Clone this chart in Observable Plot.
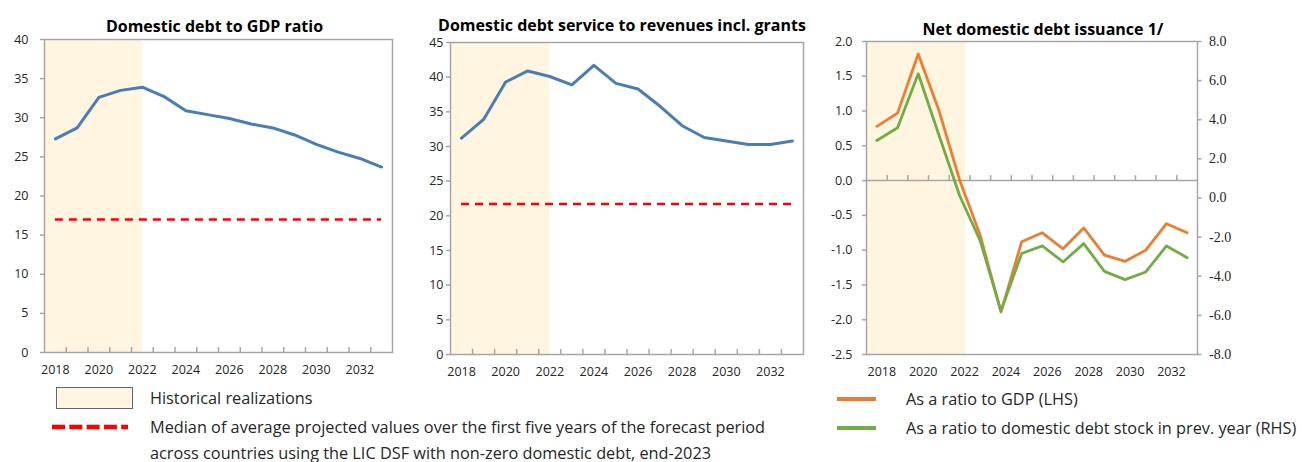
<!DOCTYPE html>
<html><head><meta charset="utf-8">
<script src="https://cdn.jsdelivr.net/npm/d3@7"></script>
<script src="https://cdn.jsdelivr.net/npm/@observablehq/plot@0.6"></script>
<style>
body{margin:0;background:#fff;width:1302px;height:462px;position:relative;overflow:hidden;font-family:"Open Sans",sans-serif;}
.panel{position:absolute;top:0;}
.leg{position:absolute;font-size:16.3px;color:#262626;white-space:nowrap;line-height:18px;}
.sw{position:absolute;}
</style></head><body>
<div id="p1" class="panel" style="left:0px"></div>
<div id="p2" class="panel" style="left:400px"></div>
<div id="p3" class="panel" style="left:820px"></div>

<div class="sw" style="left:56px;top:387px;width:75px;height:20px;background:#fff5e0;border:1.5px solid #56687a;"></div>
<svg class="sw" style="left:48px;top:420px" width="84" height="14"><line x1="4" x2="80" y1="7" y2="7" stroke="#ff0000" stroke-width="4.5" stroke-dasharray="13,4.3"/></svg>
<div class="leg" style="left:150px;top:389px">Historical realizations</div>
<div class="leg" style="left:150px;top:418px">Median of average projected values over the first five years of the forecast period</div>
<div class="leg" style="left:150px;top:444px">across countries using the LIC DSF with non-zero domestic debt, end-2023</div>

<svg class="sw" style="left:836px;top:392px" width="42" height="14"><line x1="1" x2="40" y1="7" y2="7" stroke="#ed7d31" stroke-width="4"/></svg>
<svg class="sw" style="left:836px;top:421px" width="42" height="14"><line x1="1" x2="40" y1="7" y2="7" stroke="#70ad47" stroke-width="4"/></svg>
<div class="leg" style="left:906px;top:390px">As a ratio to GDP (LHS)</div>
<div class="leg" style="left:906px;top:419px">As a ratio to domestic debt stock in prev. year (RHS)</div>

<script>
// ---- data ----
const years = [2018, 2019, 2020, 2021, 2022, 2023, 2024, 2025, 2026, 2027, 2028, 2029, 2030, 2031, 2032, 2033];
const yearTickLabels = [2018, 2020, 2022, 2024, 2026, 2028, 2030, 2032];
const debtToGDP = [27.3, 28.7, 32.6, 33.5, 33.9, 32.7, 30.9, 30.4, 29.9, 29.2, 28.7, 27.8, 26.6, 25.6, 24.8, 23.7];
const debtServiceToRevenue = [31.2, 33.9, 39.3, 40.9, 40.1, 38.9, 41.7, 39.1, 38.3, 35.8, 33.0, 31.3, 30.8, 30.3, 30.3, 30.8];
const issuanceToGDP = [0.78, 0.97, 1.82, 1.01, 0.01, -0.79, -1.89, -0.88, -0.75, -0.98, -0.68, -1.07, -1.16, -1.00, -0.62, -0.75];
const issuanceToStock = [2.94, 3.59, 6.35, 3.22, 0.13, -2.2, -5.77, -2.84, -2.45, -3.27, -2.33, -3.75, -4.17, -3.78, -2.45, -3.05];
const medianDebtToGDP = 17.0;
const medianDebtService = 21.7;
const historicalEnd = [2022, 2022, 2022.3];
const titles = ["Domestic debt to GDP ratio", "Domestic debt service to revenues incl. grants", "Net domestic debt issuance 1/"];
const yTicks1 = [0, 5, 10, 15, 20, 25, 30, 35, 40];
const yTicks2 = [0, 5, 10, 15, 20, 25, 30, 35, 40, 45];
const yTicks3 = [-2.5, -2.0, -1.5, -1.0, -0.5, 0.0, 0.5, 1.0, 1.5, 2.0];
const yTicks3Right = [-8, -6, -4, -2, 0, 2, 4, 6, 8];

// ---- styles ----
const GRAY = "#a6a6a6";
const SHADE = "#fff5e0";
const BLUE = "#4a7db5";
const ORANGE = "#ed7d31";
const GREEN = "#70ad47";
const RED = "#ff0000";

const xDomain = [years[0] - 0.5, years[years.length - 1] + 0.5];
const boundaries = years.slice(0, -1).map(y => y + 0.5);
const rows = years.map((y, i) => ({year: y, gdp: debtToGDP[i], svc: debtServiceToRevenue[i], iG: issuanceToGDP[i], iS: issuanceToStock[i]}));
const shade = (end) => Plot.rect([{a: xDomain[0], b: end}], {x1: "a", x2: "b", fill: SHADE});
const innerTicks = () => Plot.ruleX(boundaries, {x: d => d, y1: 0, y2: 0, insetTop: -5, stroke: GRAY, strokeWidth: 1.5});
const style = {fontFamily: "'Open Sans', sans-serif", fontSize: "12.5px", color: "#262626", background: "white"};

function basePlot(o) {
  return Plot.plot({
    width: o.width, height: 390,
    marginLeft: o.ml, marginRight: o.mr, marginTop: o.mt, marginBottom: o.mb,
    style,
    x: {domain: xDomain, axis: null, label: null},
    y: {domain: o.yDomain, axis: null, label: null},
    marks: [
      shade(o.shadeEnd),
      ...o.marks,
      Plot.frame({stroke: GRAY, strokeWidth: 1.5}),
      Plot.axisY(o.yTicks, {anchor: "left", label: null, tickSize: 4, tickPadding: o.ltp, stroke: GRAY, strokeWidth: 1.5, tickFormat: o.yFmt || (d => String(d)), fill: "#262626"}),
      Plot.axisX(yearTickLabels, {anchor: "bottom", label: null, tickSize: 0, tickPadding: 13, tickFormat: d => String(d), dx: o.xdx || 0, fill: "#262626"}),
      innerTicks(),
      Plot.text([o.title], {frameAnchor: "top", dy: o.tdy, dx: o.tdx, fontWeight: "bold", fontSize: 16, fill: "#000"}),
      ...(o.extra || [])
    ]
  });
}

// Panel 1
document.getElementById("p1").append(basePlot({
  width: 400, ml: 44, mr: 8, mt: 39, mb: 38, yDomain: [0, 40], yTicks: yTicks1, ltp: 12,
  shadeEnd: historicalEnd[0], title: titles[0], tdy: -18.5, tdx: -4,
  marks: [
    Plot.ruleY([medianDebtToGDP], {x1: years[0], x2: years[years.length - 1], stroke: RED, strokeWidth: 2.6, strokeDasharray: "8,6"}),
    Plot.line(rows, {x: "year", y: "gdp", stroke: BLUE, strokeWidth: 3})
  ]
}));

// Panel 2
document.getElementById("p2").append(basePlot({
  width: 410, ml: 50, mr: 7, mt: 42, mb: 36, yDomain: [0, 45], yTicks: yTicks2, ltp: 3,
  shadeEnd: historicalEnd[1], title: titles[1], tdy: -22.5, tdx: -5,
  marks: [
    Plot.ruleY([medianDebtService], {x1: years[0], x2: years[years.length - 1], stroke: RED, strokeWidth: 2.6, strokeDasharray: "8,6"}),
    Plot.line(rows, {x: "year", y: "svc", stroke: BLUE, strokeWidth: 3})
  ]
}));

// Panel 3 (dual axis: right axis values mapped onto the left scale)
const lhsDom = [yTicks3[0], yTicks3[yTicks3.length - 1]];
const rhsDom = [yTicks3Right[0], yTicks3Right[yTicks3Right.length - 1]];
const toLHS = v => lhsDom[0] + (v - rhsDom[0]) * (lhsDom[1] - lhsDom[0]) / (rhsDom[1] - rhsDom[0]);
const fromLHS = v => rhsDom[0] + (v - lhsDom[0]) * (rhsDom[1] - rhsDom[0]) / (lhsDom[1] - lhsDom[0]);
document.getElementById("p3").append(basePlot({
  width: 482, ml: 46, mr: 105, mt: 41, mb: 36, yDomain: lhsDom, yTicks: yTicks3, ltp: 10,
  yFmt: d => d.toFixed(1),
  shadeEnd: historicalEnd[2], title: titles[2], tdy: -17.5, tdx: 11, xdx: 5,
  marks: [
    Plot.ruleY([0], {stroke: GRAY, strokeWidth: 1.5}),
    Plot.line(rows, {x: "year", y: "iG", stroke: ORANGE, strokeWidth: 2.8}),
    Plot.line(rows, {x: "year", y: d => toLHS(d.iS), stroke: GREEN, strokeWidth: 2.8})
  ],
  extra: [
    Plot.axisY(yTicks3Right.map(toLHS), {anchor: "right", label: null, tickSize: 3.5, tickPadding: 8, stroke: GRAY, strokeWidth: 1.5,
      tickFormat: d => (Math.round(fromLHS(d) * 10) / 10).toFixed(1), fontFamily: "'Liberation Serif', serif", fontSize: 14, fill: "#262626"})
  ]
}));
</script>
</body></html>
